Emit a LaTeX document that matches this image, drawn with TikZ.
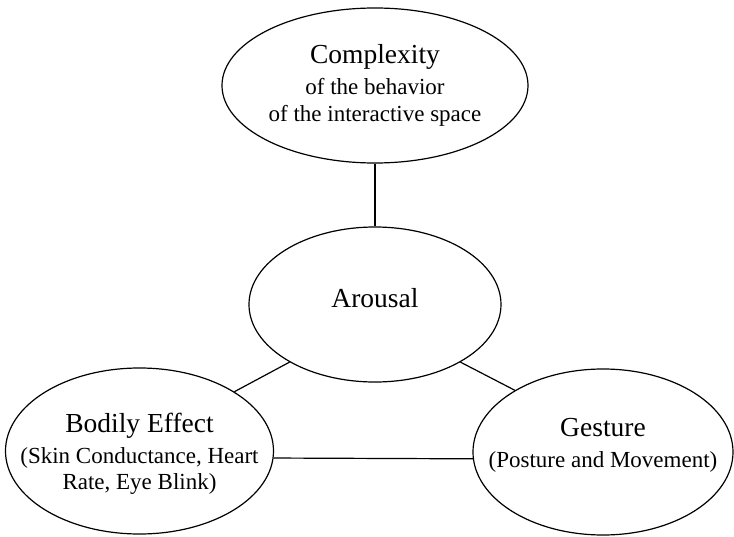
\documentclass[tikz,border=0pt]{standalone}
\usepackage{fontspec}
\setmainfont{Liberation Serif}
\usepackage{tikz}
\usetikzlibrary{shapes.geometric}
\usetikzlibrary{positioning}
\tikzstyle{every node}+=[inner sep=0pt]
\tikzstyle{bubble} = [ellipse, draw, line width=0.6pt]
\tikzstyle{line} = [draw, line width=0.6pt]
\tikzstyle{caption} = [align=center, font=\fontsize{11.5}{13.25}\selectfont]
\newcommand{\headtxt}[1]{{\fontsize{13.75}{15.5}\selectfont #1}}

\begin{document}
\begin{tikzpicture}[node distance = 2cm, auto]
            \useasboundingbox (-187.5pt,-115.75pt) rectangle (179.5pt,152.25pt);
            % Place nodes
            \node [bubble, minimum width=126pt, minimum height=77.5pt,
              label={[caption, yshift=3.25pt]center:{\headtxt{Arousal}}}] (arousal) {};
            \node [bubble, above of=arousal, node distance=109.5pt, minimum width=153pt, minimum height=77.5pt,
              label={[caption]center:{\headtxt{Complexity}\\[2.25pt]of the behavior\\of the interactive space}}] (complexity) {};
            \node [bubble, below of=arousal, node distance=73.25pt, xshift=-117.75pt, minimum width=134pt, minimum height=83pt,
              label={[caption, yshift=-1.5pt]center:{\headtxt{Bodily Effect}\\[2.25pt](Skin Conductance, Heart\\Rate, Eye Blink)}}] (bodily) {};
            \node [bubble, below of=arousal, node distance=73.75pt, xshift=114pt, minimum width=130pt, minimum height=83pt,
              label={[caption, yshift=3.25pt]center:{\headtxt{Gesture}\\[2.25pt](Posture and Movement)}}] (gesture) {};
            % Draw edges
            \path [line] (complexity) -- (arousal);
            \path [line] (arousal.214) -- (bodily.32);
            \path [line] (arousal.326) -- (gesture.145);
            \path [line] (bodily.-3) -- (gesture.183);
\end{tikzpicture}
\end{document}
